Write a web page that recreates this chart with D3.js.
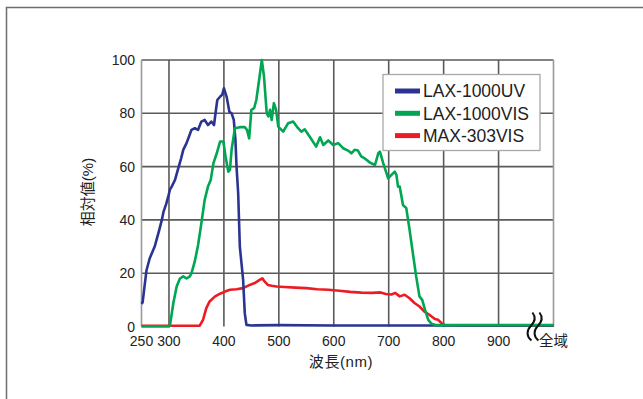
<!DOCTYPE html>
<html>
<head>
<meta charset="utf-8">
<script src="https://cdn.jsdelivr.net/npm/d3@7"></script>
<style>
  body { margin: 0; background: #fff; }
  svg { display: block; }
  text { font-family: "Liberation Sans", Arial, "Noto Sans CJK JP", sans-serif; fill: #222; }
</style>
</head>
<body>
<div id="chart"></div>
<script>
// ---- data ---------------------------------------------------------------
var xTicks = [250, 300, 400, 500, 600, 700, 800, 900, 1000];
var xTickLabels = ["250", "300", "400", "500", "600", "700", "800", "900", "全域"];
var yTicks = [0, 20, 40, 60, 80, 100];
var seriesNames = ["LAX-1000UV", "LAX-1000VIS", "MAX-303VIS"];
var seriesColors = ["#2b3591", "#00a651", "#ed1c24"];

// [wavelength nm, relative value %]
var uvData = [[250,8.5],[252,9],[259,21],[265,25.6],[274,30],[282,36],[287,40],[290,43],[295,46],[299,49],
  [302,51.5],[305,52.5],[311,55],[317,59.4],[322,63],[326,66.3],[332,68.8],[336,71],[341,73.8],[347,74.4],
  [353,73.8],[359,76.9],[365,77.5],[371,75.6],[377,76.9],[382,75.6],[386,82],[388,85],[393,86.2],[397,87],
  [400,89.4],[405,86.2],[410,80.6],[414,80],[418,77.5],[421,70],[423,60],[426,50],[429,30],[435,17.5],
  [438,5],[441,0.6],[450,0.4],[500,0.5],[600,0.4],[700,0.4],[800,0.4],[900,0.4],[1000,0.4]];

var visData = [[250,0],[300,0],[302,0.6],[308,8.8],[314,15],[320,18],[326,18.8],[332,18],[338,18.8],[341,20],
  [347,24.4],[353,30.6],[359,38.8],[365,47.5],[371,52.5],[376,55],[381,61.3],[387,65],[393,69.4],[399,69.4],
  [403,63.8],[408,58.1],[411,58.8],[414,66.3],[420,74.4],[429,74.8],[438,74.8],[442,73.8],[446,70.6],[450,81.3],
  [455,81.9],[459,85],[465,93.8],[469,100],[473,93.8],[478,80],[481,78.8],[484,81.3],[487,77.5],[491,83.8],
  [495,81.3],[499,75],[508,73.1],[517,76.3],[526,76.9],[535,74.4],[541,73.1],[547,74],[556,71.3],[568,67.5],
  [575,71],[581,68.1],[590,69.8],[599,68.1],[608,68.8],[617,66.9],[626,66],[632,65],[638,66.3],[644,66],
  [650,63.8],[656,63.1],[666,61.5],[675,60.6],[681,65],[684,65.6],[690,61.3],[699,55.6],[705,56.9],[711,58.1],
  [714,56.9],[717,52.5],[720,52.5],[726,45.6],[732,44.4],[738,36.3],[744,27.5],[750,18.8],[756,11.3],[761,10],
  [766,6.3],[772,2.5],[778,1],[787,0.5],[800,0.5],[900,0.5],[1000,0.5]];

var maxData = [[250,0.3],[356,0.3],[362,2.5],[368,6.9],[374,9.4],[384,11.3],[393,12.3],[402,13.1],[411,13.8],
  [423,14],[435,14.4],[447,15.6],[456,16.3],[465,17.5],[470,18.1],[474,16.9],[480,15.6],[487,15.3],[496,15],
  [510,14.8],[530,14.6],[550,14.4],[570,14],[590,13.8],[610,13.4],[630,13],[650,12.7],[670,12.6],[685,12.8],
  [695,12.2],[705,12],[712,12.6],[720,11.3],[729,11.9],[738,10.6],[747,8.8],[756,7.5],[765,5.6],[774,4.4],
  [784,2.8],[790,2.5],[796,1.3],[802,0.5],[850,0.3],[1000,0.3]];

// ---- layout --------------------------------------------------------------
var W = 643, H = 399;
var svg = d3.select("#chart").append("svg").attr("width", W).attr("height", H);

// outer frame (top + left only visible)
svg.append("path").attr("d", "M6.5," + H + "V7.5H" + W)
  .attr("fill", "none").attr("stroke", "#6e6e6e").attr("stroke-width", 1.5);

var x = d3.scaleLinear().domain([250, 1000]).range([141.5, 553.5]);
var y = d3.scaleLinear().domain([0, 100]).range([326.5, 60]);

// grid
var grid = svg.append("g");
grid.selectAll(".vg").data(xTicks.filter(d => d > 250 && d < 1000)).join("line").attr("class", "vg")
  .attr("x1", d => x(d)).attr("x2", d => x(d)).attr("y1", y(0)).attr("y2", y(100))
  .attr("stroke", "#5a5a5a").attr("stroke-width", 1.6);
grid.selectAll(".hg").data(yTicks.filter(d => d > 0)).join("line").attr("class", "hg")
  .attr("x1", x(250)).attr("x2", x(1000)).attr("y1", d => y(d)).attr("y2", d => y(d))
  .attr("stroke", "#5a5a5a").attr("stroke-width", 1.6);
// plot side edges
grid.selectAll(".edge").data([250, 1000]).join("line").attr("class", "edge")
  .attr("x1", d => x(d)).attr("x2", d => x(d)).attr("y1", y(0)).attr("y2", y(100))
  .attr("stroke", "#9a9a9a").attr("stroke-width", 1.6);

// tick labels
svg.append("g").selectAll("text").data(xTicks).join("text")
  .attr("x", d => x(d)).attr("y", 346).attr("text-anchor", "middle")
  .style("font-size", d => d === 1000 ? "14.5px" : "14px")
  .text((d, i) => xTickLabels[i]);
svg.append("g").selectAll("text").data(yTicks).join("text")
  .attr("x", 135).attr("y", d => y(d) + 5).attr("text-anchor", "end")
  .style("font-size", "14px").text(d => d);

// axis titles
svg.append("text").attr("x", 341).attr("y", 367).attr("text-anchor", "middle")
  .style("font-size", "15px").style("letter-spacing", "0.6px").text("波長(nm)");
svg.append("text").attr("transform", "translate(93,192) rotate(-90)").attr("text-anchor", "middle")
  .style("font-size", "15px").text("相対値(%)");

// series lines (red under blue under green)
var line = d3.line().x(d => x(d[0])).y(d => y(d[1]));
var drawOrder = [[maxData, 2], [uvData, 0], [visData, 1]];
svg.append("g").selectAll("path").data(drawOrder).join("path")
  .attr("d", d => line(d[0])).attr("fill", "none")
  .attr("stroke", d => seriesColors[d[1]]).attr("stroke-width", 2.6)
  .attr("stroke-linejoin", "round");

// axis break mark near 全域
var bx = x(958), by = y(0);
[0, 7].forEach(function (off) {
  var p = d3.path();
  p.moveTo(bx + off + 2, by - 14);
  p.bezierCurveTo(bx + off + 6, by - 9, bx + off + 4, by - 4, bx + off, by);
  p.bezierCurveTo(bx + off - 4, by + 4, bx + off - 4, by + 10, bx + off + 1, by + 14);
  svg.append("path").attr("d", p.toString()).attr("fill", "none")
    .attr("stroke", "#111").attr("stroke-width", 2);
});

// legend
var lg = svg.append("g");
lg.append("rect").attr("x", 383).attr("y", 74.5).attr("width", 157).attr("height", 76)
  .attr("fill", "#fff").attr("stroke", "#a8a8a8").attr("stroke-width", 1.3);
var rows = lg.selectAll(".row").data(seriesNames).join("g").attr("class", "row")
  .attr("transform", (d, i) => "translate(0," + (91 + i * 22.3) + ")");
rows.append("line").attr("x1", 395).attr("x2", 420).attr("y1", 0).attr("y2", 0)
  .attr("stroke", (d, i) => seriesColors[i]).attr("stroke-width", 5);
rows.append("text").attr("x", 423).attr("y", 6.3).style("font-size", "17.5px").text(d => d);
</script>
</body>
</html>
